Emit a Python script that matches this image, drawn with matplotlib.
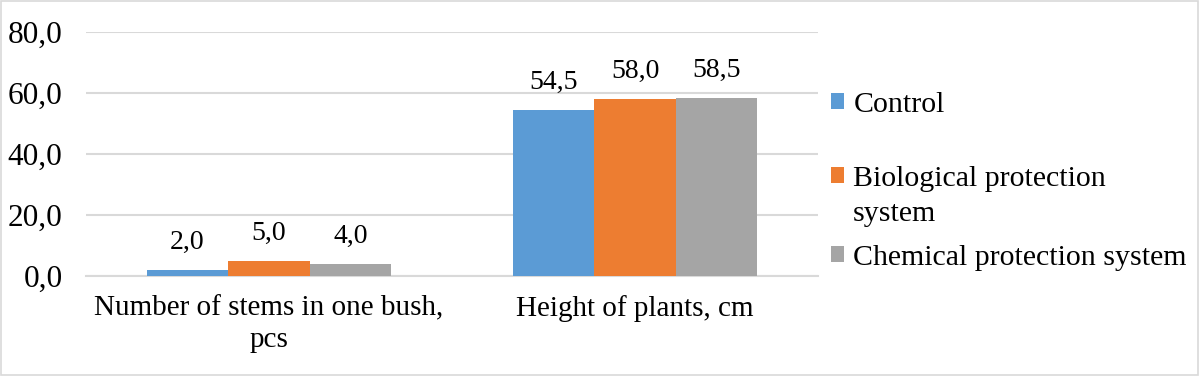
import matplotlib
matplotlib.use("Agg")
import matplotlib.pyplot as plt
import numpy as np
from matplotlib.patches import Patch

categories = ["Number of stems in one bush,\npcs", "Height of plants, cm"]
series_names = ["Control", "Biological protection\nsystem", "Chemical protection system"]
control = [2.0, 54.5]
biological = [5.0, 58.0]
chemical = [4.0, 58.5]
yticks = [0, 20, 40, 60, 80]

colors = ["#5b9bd5", "#ed7d31", "#a5a5a5"]
plt.rcParams['font.family'] = ['Liberation Serif', 'DejaVu Serif']

fig = plt.figure(figsize=(12, 3.76), dpi=100)
ax = fig.add_axes([0.0717, 0.266, 0.6100, 0.649])

x = np.arange(len(categories))
w = 0.223
for i, (vals, c) in enumerate(zip([control, biological, chemical], colors)):
    bars = ax.bar(x + (i - 1) * w, vals, width=w, color=c, zorder=3)
    for b, v in zip(bars, vals):
        ax.annotate(f"{v:.1f}".replace(".", ","), (b.get_x() + b.get_width() / 2, v),
                    xytext=(0, 15), textcoords="offset points", ha="center", va="baseline",
                    fontsize=20)

ax.set_xlim(-0.5, 1.5)
ax.set_ylim(0, 80)
ax.set_yticks(yticks)
ax.set_yticklabels([f"{t:.1f}".replace(".", ",") for t in yticks], fontsize=22.5)
ax.set_xticks(x)
ax.set_xticklabels(categories, fontsize=21, linespacing=1.3)
ax.tick_params(axis="both", length=0)
ax.tick_params(axis="y", pad=17)
ax.tick_params(axis="x", pad=14)
ax.grid(axis="y", color="#d9d9d9", linewidth=1.5, zorder=0)
for s in ["top", "right", "left"]:
    ax.spines[s].set_visible(False)
ax.spines["bottom"].set_color("#d9d9d9")
ax.spines["bottom"].set_linewidth(1.5)

legend_y = [1 - 105 / 376, 1 - 179 / 376, 1 - 258 / 376]
first_lines = [n.split("\n")[0] for n in series_names]
for c, lab, yy in zip(colors, first_lines, legend_y):
    fig.legend([Patch(facecolor=c)], [lab], loc="center left", bbox_to_anchor=(0.6925, yy),
               frameon=False, fontsize=21.5, handlelength=0.45, handleheight=0.45,
               handletextpad=0.3, borderpad=0, borderaxespad=0)
for n in series_names:
    if "\n" in n:
        fig.text(853 / 1200, 1 - 214 / 376, n.split("\n")[1], fontsize=21.5,
                 ha="left", va="center")

fig.patches.append(plt.Rectangle((0.001, 0.002), 0.997, 0.995, transform=fig.transFigure,
                                 fill=False, edgecolor="#d9d9d9", linewidth=1.2))
fig.savefig("out.png", dpi=100)
